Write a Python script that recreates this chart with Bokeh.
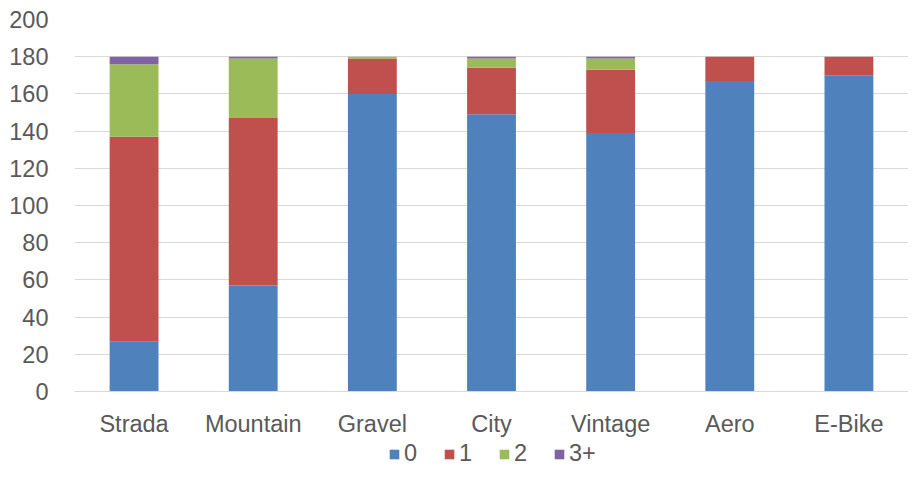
from bokeh.plotting import figure
from bokeh.models import ColumnDataSource, FactorRange, Range1d, Legend, LegendItem, FixedTicker
from bokeh.embed import file_html
from bokeh.resources import INLINE

categories = ["Strada", "Mountain", "Gravel", "City", "Vintage", "Aero", "E-Bike"]
series_names = ["0", "1", "2", "3+"]
s0 = [27, 57, 160, 149, 139, 167, 170]
s1 = [110, 90, 19, 25, 34, 13, 10]
s2 = [39, 32, 1, 5, 6, 0, 0]
s3 = [4, 1, 0, 1, 1, 0, 0]
y_ticks = [0, 20, 40, 60, 80, 100, 120, 140, 160, 180, 200]
colors = ["#4F81BD", "#C0504D", "#9BBB59", "#8064A2"]

FONT = "Liberation Sans"
FS = "23.5px"
TXT = "#595959"

source = ColumnDataSource(data={"cat": categories, "0": s0, "1": s1, "2": s2, "3+": s3})

# frame spans the plot and the space below the baseline, where the x labels and legend sit
p = figure(frame_width=834, frame_height=449, output_backend="svg", toolbar_location=None,
           x_range=FactorRange(*categories, range_padding=0), y_range=Range1d(-41.4, 200),
           min_border_left=74, min_border_right=0, min_border_top=19, min_border_bottom=0)

renderers = p.vbar_stack(series_names, x="cat", width=0.41, source=source,
                         color=colors, line_color=None)

p.outline_line_color = None
p.background_fill_color = "white"
p.border_fill_color = "white"

p.xgrid.grid_line_color = None
p.ygrid.grid_line_color = "#D9D9D9"
p.ygrid.grid_line_width = 1
p.ygrid.ticker = FixedTicker(ticks=y_ticks)

p.yaxis.ticker = FixedTicker(ticks=y_ticks)
p.yaxis.axis_line_color = None
p.yaxis.major_tick_line_color = None
p.yaxis.minor_tick_line_color = None
p.yaxis.major_label_standoff = 20
p.yaxis.major_label_text_font = FONT
p.yaxis.major_label_text_font_size = FS
p.yaxis.major_label_text_color = TXT

p.xaxis.fixed_location = 0
p.xaxis.axis_line_color = "#D9D9D9"
p.xaxis.major_tick_line_color = None
p.xaxis.minor_tick_line_color = None
p.xaxis.major_label_standoff = 14
p.xaxis.major_label_text_font = FONT
p.xaxis.major_label_text_font_size = FS
p.xaxis.major_label_text_color = TXT

items = [LegendItem(label=n, renderers=[r]) for n, r in zip(series_names, renderers)]
legend = Legend(items=items, orientation="horizontal", location=(314, 1),
                glyph_width=12, glyph_height=12, label_standoff=4, spacing=19,
                label_text_font=FONT, label_text_font_size=FS,
                label_text_color=TXT, border_line_color=None,
                background_fill_alpha=0, margin=0, padding=2)
p.add_layout(legend, "center")

open("out.html", "w").write(file_html(p, INLINE))
